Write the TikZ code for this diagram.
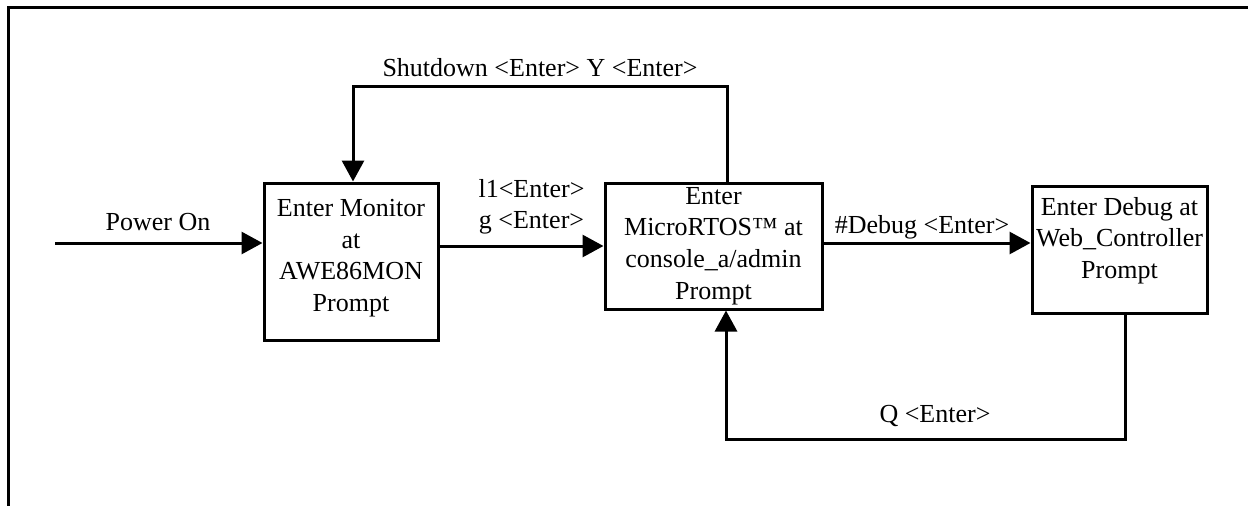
\documentclass[tikz,border=0pt]{standalone}
\usepackage{fontspec}
\setmainfont{Liberation Serif}
\usetikzlibrary{arrows.meta,calc}
\begin{document}
\begin{tikzpicture}[x=1pt,y=-1pt,
  txt/.style={font=\fontsize{26}{31.6}\selectfont, inner sep=0pt},
  box/.style={draw, line width=3pt, align=center, inner sep=0pt,
              font=\fontsize{26}{31.6}\selectfont},
  conn/.style={line width=3pt},
  arr/.style={conn, -{Triangle[length=21pt,width=22pt]}}]
\useasboundingbox (0,0) rectangle (1248,506);
% frame
\draw[line width=3pt] (1250,7) -- (8,7) -- (8,508);
% boxes
\node[box, minimum width=174pt, minimum height=157pt, text depth=12pt] (b1) at (351,261.5)
  {Enter Monitor\\at\\AWE86MON\\Prompt};
\node[box, minimum width=217pt, minimum height=126pt] (b2) at (713.5,246)
  {Enter\\MicroRTOS™ at\\console\_a/admin\\Prompt};
\node[box, minimum width=175pt, minimum height=127pt, text depth=23.5pt] (b3) at (1119.5,249.5)
  {Enter Debug at\\Web\_Controller\\Prompt};
% coordinates for connector routes
\coordinate (pstart) at (55,243);
\coordinate (y12) at (0,246);
\coordinate (y23) at (0,243);
\coordinate (s1) at (727,86);
\coordinate (s2) at (353,86);
\coordinate (q1) at (1125,439);
\coordinate (q2) at (726,439);
% connectors
\draw[arr] (pstart) -- (pstart -| b1.west);
\draw[arr] (b1.east |- y12) -- (b2.west |- y12);
\draw[arr] (b2.east |- y23) -- (b3.west |- y23);
\draw[arr] (s1 |- b2.north) -- (s1) -- (s2) -- (s2 |- b1.north);
\draw[arr] (q1 |- b3.south) -- (q1) -- (q2) -- (q2 |- b2.south);
% labels
\node[txt, anchor=base] (lpow) at (158,230) {Power On};
\node[txt, anchor=base] (lcmd1) at (531.5,197) {l1<Enter>};
\node[txt, anchor=base] (lcmd2) at (531.5,228) {g <Enter>};
\node[txt, anchor=base] (lshut) at (540,76) {Shutdown <Enter> Y <Enter>};
\node[txt, anchor=base] (ldbg) at (922,233) {\#Debug <Enter>};
\node[txt, anchor=base] (lq) at (935,422) {Q <Enter>};
\end{tikzpicture}
\end{document}
